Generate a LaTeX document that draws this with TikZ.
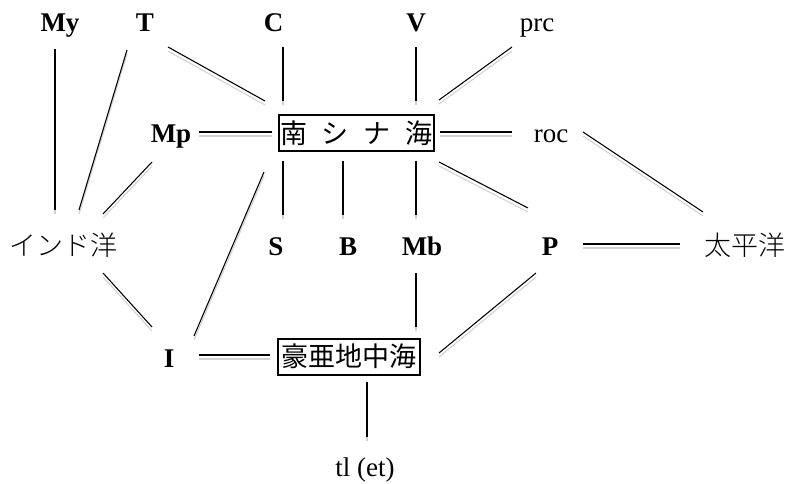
\documentclass[tikz,border=0pt]{standalone}
\usepackage{fontspec}
\setmainfont{Liberation Serif}
\newfontfamily\jp{Noto Sans CJK JP}
\newfontfamily\jpl{Noto Sans CJK JP Light}
\tikzset{
  lab/.style={anchor=base, inner sep=0pt, font=\fontsize{20.25pt}{24pt}\selectfont},
  blab/.style={anchor=base, inner sep=0pt, font=\fontsize{20.25pt}{24pt}\selectfont\bfseries},
  sea/.style={draw, line width=1.5pt, inner sep=0pt, minimum height=27pt, font=\jp\fontsize{20.25pt}{24pt}\selectfont},
  ocean/.style={inner sep=0pt, font=\jpl\fontsize{20.25pt}{24pt}\selectfont},
  conn/.style={line width=0.8pt, preaction={draw=gray!35, line width=0.8pt, transform canvas={yshift=-3pt}}}
}
\begin{document}
\begin{tikzpicture}[x=0.75pt,y=-0.75pt]
\useasboundingbox (0,0) rectangle (787,484);
% nodes
\node[blab] (My) at (60,32) {My};
\node[blab] (T) at (145,32) {T};
\node[blab] (C) at (273.5,32) {C};
\node[blab] (V) at (416,32) {V};
\node[lab] (prc) at (537,32) {prc};
\node[blab] (Mp) at (171,143) {Mp};
\node[lab] (roc) at (551,143) {roc};
\node[sea, minimum width=116.25pt] (NS) at (356.5,133) {南\hspace{0.555em}シ\hspace{0.555em}ナ\hspace{0.555em}海};
\node[ocean] (IO) at (63,245.5) {インド洋};
\node[blab] (S) at (276,256) {S};
\node[blab] (B) at (348,256) {B};
\node[blab] (Mb) at (422,256) {Mb};
\node[blab] (P) at (550,256) {P};
\node[ocean] (PO) at (745,245) {太平洋};
\node[blab] (I) at (169,367) {I};
\node[sea, minimum width=106.5pt] (AM) at (349,356.5) {豪亜地中海};
\node[lab] (tl) at (365,476) {tl (et)};
% connectors
\draw[conn] ([shift={(-5,17)}]My.base) -- ([shift={(-8,-35.5)}]IO.center);
\draw[conn] ([shift={(-18,18)}]T.base) -- ([shift={(16,-35.5)}]IO.center);
\draw[conn] ([shift={(23,15)}]T.base) -- ([shift={(-91.5,-32)}]NS.center);
\draw[conn] ([shift={(9.5,15)}]C.base) -- ([shift={(-73.5,-32)}]NS.center);
\draw[conn] ([shift={(0,15)}]V.base) -- ([shift={(59.5,-32)}]NS.center);
\draw[conn] ([shift={(-25,15)}]prc.base) -- ([shift={(82.5,-33)}]NS.center);
\draw[conn] ([shift={(28,-11)}]Mp.base) -- ([shift={(-84.5,-1)}]NS.center);
\draw[conn] ([shift={(83.5,-1)}]NS.center) -- ([shift={(-39,-11)}]roc.base);
\draw[conn] ([shift={(-19,19)}]Mp.base) -- ([shift={(40,-31.5)}]IO.center);
\draw[conn] ([shift={(-73.5,28)}]NS.center) -- ([shift={(7,-41)}]S.base);
\draw[conn] ([shift={(-13.5,28)}]NS.center) -- ([shift={(-5,-41)}]B.base);
\draw[conn] ([shift={(59.5,28)}]NS.center) -- ([shift={(-6,-41)}]Mb.base);
\draw[conn] ([shift={(82.5,29)}]NS.center) -- ([shift={(-22,-48)}]P.base);
\draw[conn] ([shift={(-92.5,39)}]NS.center) -- ([shift={(25,-31)}]I.base);
\draw[conn] ([shift={(32,-11)}]roc.base) -- ([shift={(-42,-33)}]PO.center);
\draw[conn] ([shift={(33,-12)}]P.base) -- ([shift={(-65,-1)}]PO.center);
\draw[conn] ([shift={(40,27.5)}]IO.center) -- ([shift={(-17,-40)}]I.base);
\draw[conn] ([shift={(-6,17)}]Mb.base) -- ([shift={(67,-29.5)}]AM.center);
\draw[conn] ([shift={(-14,17)}]P.base) -- ([shift={(90,-3.5)}]AM.center);
\draw[conn] ([shift={(30,-12)}]I.base) -- ([shift={(-79,-1.5)}]AM.center);
\draw[conn] ([shift={(18,25.5)}]AM.center) -- ([shift={(2,-39)}]tl.base);
\end{tikzpicture}
\end{document}
